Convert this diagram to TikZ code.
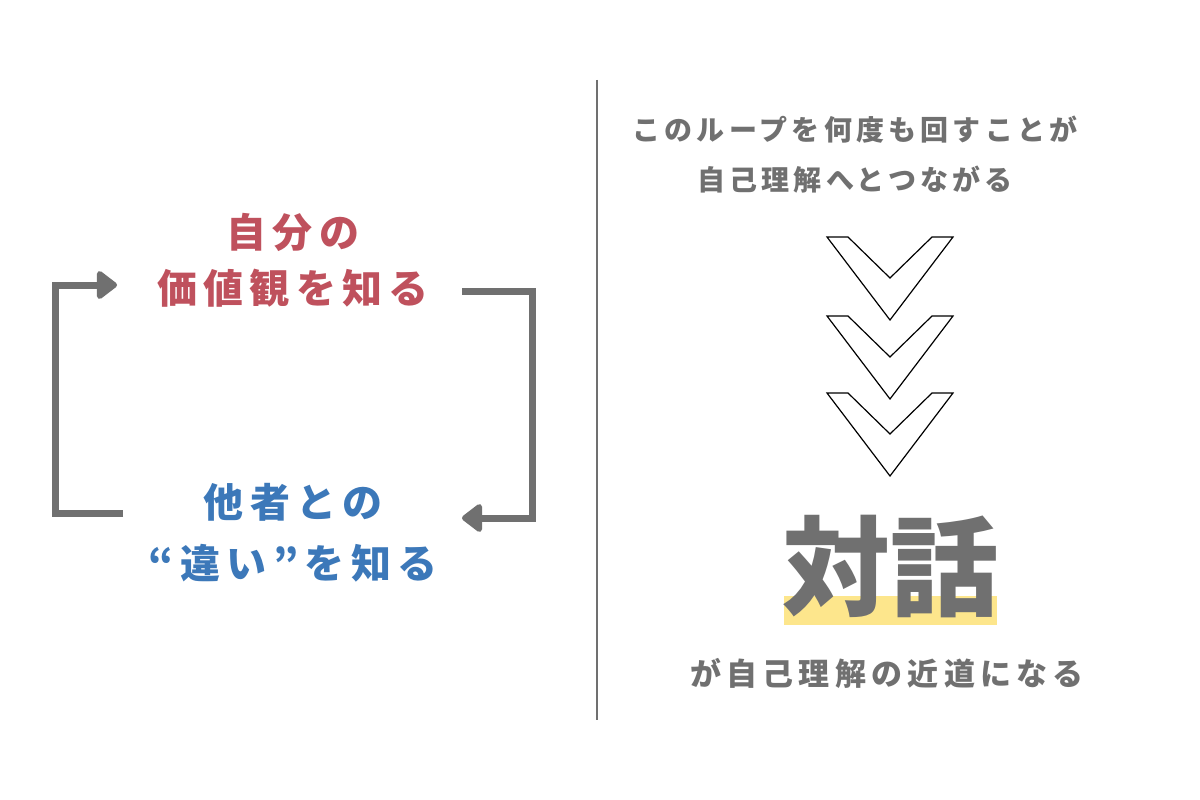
\documentclass[tikz,border=0pt]{standalone}
\usepackage{fontspec}
\setmainfont{Noto Sans CJK JP}
\usetikzlibrary{arrows.meta,positioning}
\definecolor{valuered}{HTML}{BF515D}
\definecolor{otherblue}{HTML}{3C78B9}
\definecolor{loopgray}{HTML}{707070}
\definecolor{markyellow}{HTML}{FDE68C}
\tikzset{
px/.style={x=1pt,y=-1pt},
redlabel/.style={
  font={\bfseries\addfontfeatures{LetterSpace=16}\fontsize{40}{56}\selectfont},
  text=valuered, align=center, inner sep=0pt
},
bluelabel/.style={
  font={\bfseries\addfontfeatures{LetterSpace=16}\fontsize{40}{61}\selectfont},
  text=otherblue, align=center, inner sep=0pt
},
graylabel/.style={
  font={\bfseries\addfontfeatures{LetterSpace=15}\fontsize{28}{50}\selectfont},
  text=loopgray, align=center, inner sep=0pt
},
bigword/.style={
  font={\bfseries\fontsize{108}{108}\selectfont},
  text=loopgray, inner sep=0pt
},
loopline/.style={
  draw=loopgray, line width=7pt, line join=miter,
  -{Triangle[round,length=22pt,width=32pt]}
},
chevron/.style={draw=black, fill=white, line width=1.2pt, line join=miter},
}

\begin{document}
\begin{tikzpicture}[px]
    \useasboundingbox[fill=white] (0,0) rectangle (1200,800);

    \node[redlabel]  (value) at (293,260) {自分の\\価値観を知る};
    \node[bluelabel] (other) at (293,533) {他者との\\“違い”を知る};

    \coordinate (ls) at (123,513);
    \coordinate (le) at (117,285);
    \coordinate (rs) at (462,291);
    \coordinate (re) at (462,518);
    \draw[loopline] (ls) -- ++(-68,0) |- (le);
    \draw[loopline] (rs) -- ++(70,0) |- (re);

    \coordinate (dtop) at (597,80);
    \coordinate (dbot) at (597,720);
    \draw[draw=loopgray, line width=2pt] (dtop) -- (dbot);

    \node[graylabel] (loop) at (855,155) {このループを何度も回すことが\\自己理解へとつながる};

    \foreach \y in {237,316,393}
        \draw[chevron] (827,\y) -- (848,\y) -- (890,\y+41) -- (932,\y)
            -- (953,\y) -- (890,\y+83) -- cycle;

    \fill[markyellow] (784,596) rectangle (997,625);
    \node[bigword] (talk) at (890,567) {対話};

    \node[graylabel, font={\bfseries\addfontfeatures{LetterSpace=17}\fontsize{31}{40}\selectfont}]
        (road) at (887,673) {が自己理解の近道になる};
\end{tikzpicture}
\end{document}
